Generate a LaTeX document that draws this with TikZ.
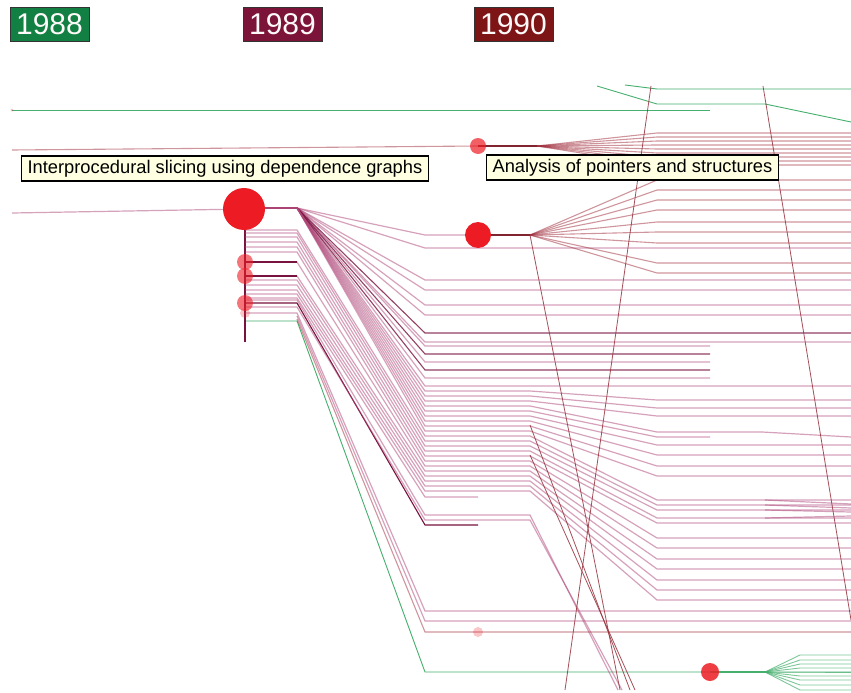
\documentclass[tikz,border=0pt]{standalone}
\usepackage{fontspec}
\setmainfont{Liberation Sans}
\definecolor{pinkc}{RGB}{175,70,120}
\definecolor{darkpk}{RGB}{120,18,62}
\definecolor{redl}{RGB}{160,45,60}
\definecolor{brownc}{RGB}{150,50,60}
\definecolor{greenc}{RGB}{70,175,110}
\definecolor{dotred}{RGB}{237,28,36}
\definecolor{tipc}{RGB}{255,255,225}
\definecolor{y88}{RGB}{18,128,66}
\definecolor{y89}{RGB}{124,19,57}
\definecolor{y90}{RGB}{125,21,23}
\begin{document}
\begin{tikzpicture}[x=1pt,y=-1pt,
  pk/.style={draw=pinkc, line width=1.2pt, opacity=0.5},
  pkd/.style={draw=darkpk, line width=1.1pt},
  rl/.style={draw=redl, line width=1.1pt, opacity=0.5},
  rld/.style={draw=redl!80!black, line width=1.4pt},
  cross/.style={draw=brownc, line width=0.8pt, opacity=0.85},
  gr/.style={draw=greenc, line width=0.9pt},
  dot/.style={circle, fill=dotred, draw=none, inner sep=0pt, minimum size=#1},
  year/.style={draw=black!80, line width=0.8pt, text=white!92!pink,
    font=\fontsize{30}{30}\selectfont, minimum width=79pt, minimum height=34pt, inner sep=0pt},
  tip/.style={draw=black, line width=1.2pt, fill=tipc, font=\fontsize{18.3}{20}\selectfont,
    inner xsep=6pt, inner ysep=0pt, minimum height=25pt, anchor=west}
]
\useasboundingbox (0,0) rectangle (851,693);
\fill[white] (0,0) rectangle (851,693);

% hubs
\coordinate (h89) at (297,208);
\coordinate (h90a) at (537,146);
\coordinate (h90b) at (530,235);
\coordinate (hg) at (765,672);

% ---------- green lines ----------
\draw[gr] (12,110) -- (710,110);
\draw[gr] (597,86) -- (657,104) -- (765,104) -- (851,122);
\draw[gr] (625,85) -- (657,89) -- (851,89);
\draw[gr] (245,321) -- (297,321) -- (425,672) -- (851,672);
\draw[gr, line width=1.4pt] (710,672) -- (hg);
\foreach \y in {655,660,664,668,672,676,680,685,690}
  \draw[gr, opacity=0.7] (hg) -- (800,\y) -- (851,\y);

% ---------- 1989 group ----------
\draw[pk] (12,213) -- (244,209);
\draw[pkd, line width=2pt] (244,208) -- (h89);
\draw[pkd] (245,209) -- (245,342);

% fan from hub 1989
\foreach \d/\e in {248/851,280/851,290/851,305/851,315/851,342/851,346/710,362/710,378/710,386/851}
  \draw[pk] (h89) -- (425,\d) -- (\e,\d);
\foreach \d/\e in {333/851,354/710,370/710}
  \draw[pkd, opacity=0.8] (h89) -- (425,\d) -- (\e,\d);
\draw[pk] (h89) -- (425,235) -- (478,235);

% lines via x=530
\foreach \s/\d/\t/\e in {208/391/400/851,208/396/408/851,208/401/416/851,208/406/432/762,
  208/411/437/710,208/416/445/851,208/421/455/851,208/426/466/851,208/431/476/851,
  230/436/500/851,233/441/505/851,237/446/510/851,242/451/518/851,247/456/523/851,
  252/461/538/851,262/466/548/851,276/471/559/851,280/476/569/851,285/481/580/851,
  290/486/590/851,294/491/600/851}
  \draw[pk] (245,\s) -- (297,\s) -- (425,\d) -- (530,\d) -- (657,\t) -- (\e,\t);
\draw[pk] (762,432) -- (851,437);
\foreach \y/\z in {500/504,505/508,510/512,518/516}
  \draw[pk] (765,\y) -- (851,\z);

% short and steep lines
\draw[pk] (245,298) -- (297,298) -- (425,497) -- (478,497);
\draw[pkd] (245,303) -- (297,303) -- (425,525) -- (478,525);
\draw[pk] (245,300) -- (297,300) -- (425,515) -- (530,515) -- (618,690);
\draw[pk] (245,307) -- (297,307) -- (425,520) -- (530,520) -- (622,690);
\foreach \s in {262,276}
  \draw[pkd] (245,\s) -- (297,\s);

% lines to the bottom band
\draw[pk] (245,313) -- (297,313) -- (425,611) -- (851,611);
\draw[pk] (297,316) -- (425,621) -- (851,621);
\draw[rl] (297,319) -- (425,632) -- (851,632);

% ---------- 1990 groups ----------
\draw[rl] (12,150) -- (478,146);
\draw[rld] (478,146) -- (h90a);
\foreach \y in {133,137,141,145,149,153,157,161,165}
  \draw[rl] (h90a) -- (657,\y) -- (851,\y);
\draw[rld] (478,235) -- (h90b);
\foreach \y in {180,190,200,210,222,232,243,263,273}
  \draw[rl] (h90b) -- (657,\y) -- (851,\y);

% ---------- long crossing lines ----------
\draw[cross] (651,86) -- (565,690);
\draw[cross] (763,86) -- (851,620);
\draw[cross] (h90b) -- (620,690);
\draw[cross] (530,425) -- (630,690);
\draw[cross] (530,455) -- (635,690);

% ---------- dots ----------
\node[dot=3pt, opacity=0.3] (d0) at (12,110) {};
\node[dot=42pt] (n89) at (244,209) {};
\node[dot=16pt, opacity=0.6] (d1) at (245,262) {};
\node[dot=16pt, opacity=0.6] (d2) at (245,276) {};
\node[dot=16pt, opacity=0.6] (d3) at (245,303) {};
\node[dot=10pt, opacity=0.25] (d4) at (245,313) {};
\node[dot=16pt, opacity=0.7] (n90a) at (478,146) {};
\node[dot=26pt] (n90b) at (478,235) {};
\node[dot=10pt, opacity=0.25] (d5) at (478,632) {};
\node[dot=18pt, opacity=0.85] (ng) at (710,672) {};

% ---------- tooltips ----------
\node[tip] (t1) at (21,168.5) {Interprocedural slicing using dependence graphs};
\node[tip] (t2) at (486,167.5) {Analysis of pointers and structures};

% ---------- year labels ----------
\node[year, fill=y88] (y1) at (49.5,24.5) {1988};
\node[year, fill=y89] (y2) at (282.5,24.5) {1989};
\node[year, fill=y90] (y3) at (513.5,24.5) {1990};
\end{tikzpicture}
\end{document}
